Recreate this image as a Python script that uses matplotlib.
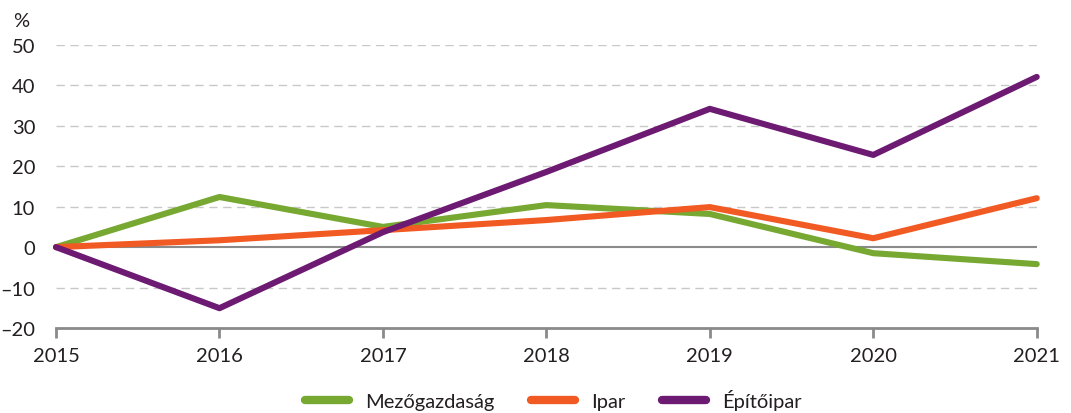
import numpy as np
import matplotlib.pyplot as plt

plt.rcParams['font.family'] = ['Lato', 'DejaVu Sans']

years = [2015, 2016, 2017, 2018, 2019, 2020, 2021]
mezogazdasag = [0, 12.4, 5.0, 10.4, 8.2, -1.5, -4.2]
ipar = [0, 1.7, 4.2, 6.7, 9.9, 2.2, 12.1]
epitoipar = [0, -15.1, 3.7, 18.6, 34.2, 22.8, 42.1]

series = [
    ("Mezőgazdaság", mezogazdasag, "#76a832"),
    ("Ipar", ipar, "#f15a22"),
    ("Építőipar", epitoipar, "#6d1a72"),
]

fig = plt.figure(figsize=(10.71, 4.14), dpi=100)
ax = fig.add_axes([0.0523, 0.2053, 0.9157, 0.6837])

# rácsvonalak
for v in [-10, 10, 20, 30, 40, 50]:
    ax.axhline(v, color="#c8c8c8", linewidth=1.0, linestyle=(0, (6, 4)), zorder=1)
ax.axhline(0, color="#8a8a8a", linewidth=1.5, zorder=1)

for name, vals, col in series:
    ax.plot(years, vals, color=col, linewidth=4.4, solid_capstyle="round",
            solid_joinstyle="round", label=name, zorder=3, clip_on=False)

ax.set_xlim(2015, 2021)
ax.set_ylim(-20, 50)
ax.set_xticks(years)
ax.set_yticks(range(-20, 51, 10))
ax.set_yticklabels([str(v).replace("-", "\u2013") for v in range(-20, 51, 10)])

for s in ["top", "right", "left"]:
    ax.spines[s].set_visible(False)
ax.spines["bottom"].set_color("#8a8a8a")
ax.spines["bottom"].set_linewidth(2)
ax.tick_params(axis="x", length=7, width=2, color="#8a8a8a", pad=7,
               labelsize=14.5, labelcolor="#231f20")
ax.tick_params(axis="y", length=0, pad=15, labelsize=14.5, labelcolor="#231f20")

ax.text(-0.027, 1.085, "%", transform=ax.transAxes, ha="right", va="center",
        fontsize=14.5, color="#231f20")

leg = ax.legend(loc="center", bbox_to_anchor=(0.507, -0.254), ncol=3,
                frameon=False, fontsize=14.5, handlelength=2.2, columnspacing=1.8,
                handletextpad=0.8)
for h in leg.get_lines():
    h.set_linewidth(6)
for t in leg.get_texts():
    t.set_color("#231f20")

fig.savefig("out.png", dpi=100)
